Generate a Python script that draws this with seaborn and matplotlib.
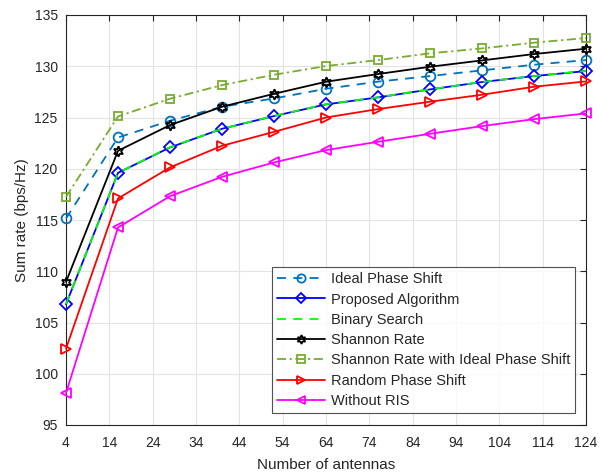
import numpy as np
import pandas as pd
import matplotlib
matplotlib.use("Agg")
import matplotlib.pyplot as plt
import seaborn as sns

antennas = [4, 16, 28, 40, 52, 64, 76, 88, 100, 112, 124]
ideal_phase = [115.15, 123.05, 124.68, 126.05, 126.86, 127.8, 128.5, 129.04, 129.6, 130.15, 130.6]
proposed = [106.78, 119.6, 122.08, 123.9, 125.14, 126.28, 126.96, 127.74, 128.46, 129.04, 129.53]
binary_search = [106.8, 119.6, 122.1, 123.9, 125.15, 126.3, 126.97, 127.75, 128.47, 129.05, 129.55]
shannon = [108.96, 121.75, 124.26, 126.05, 127.31, 128.49, 129.24, 129.95, 130.57, 131.19, 131.71]
shannon_ideal = [117.26, 125.1, 126.83, 128.16, 129.17, 130.02, 130.6, 131.26, 131.74, 132.3, 132.75]
random_phase = [102.45, 117.1, 120.13, 122.24, 123.6, 125.0, 125.82, 126.54, 127.22, 128.0, 128.52]
without_ris = [98.12, 114.27, 117.32, 119.21, 120.61, 121.82, 122.63, 123.41, 124.16, 124.84, 125.4]

labels = ["Ideal Phase Shift", "Proposed Algorithm", "Binary Search", "Shannon Rate",
          "Shannon Rate with Ideal Phase Shift", "Random Phase Shift", "Without RIS"]
xticks = [4, 14, 24, 34, 44, 54, 64, 74, 84, 94, 104, 114, 124]
yticks = [95, 100, 105, 110, 115, 120, 125, 130, 135]

sns.set_style("white")
plt.rcParams['font.family'] = ['Liberation Sans', 'DejaVu Sans']

fig = plt.figure(figsize=(6.02, 4.75), dpi=100)
ax = fig.add_axes([66/602, 1-425/475, (586-66)/602, (425-15)/475])

series = [ideal_phase, proposed, binary_search, shannon, shannon_ideal, random_phase, without_ris]
styles = [
    dict(color="#0072BD", linestyle=(0, (5, 4)), marker="o", markersize=7),
    dict(color="#0000FF", linestyle="-", marker="D", markersize=6),
    dict(color="#00FF00", linestyle=(0, (5, 4)), marker=None, markersize=7),
    dict(color="#000000", linestyle="-", marker=(6, 1, 0), markersize=7.5),
    dict(color="#77AC30", linestyle=(0, (5, 2, 1.2, 2)), marker="s", markersize=6),
    dict(color="#FF0000", linestyle="-", marker=">", markersize=7.5),
    dict(color="#FF00FF", linestyle="-", marker="<", markersize=7.5),
]

for lab, vals, st in zip(labels, series, styles):
    df = pd.DataFrame({"x": antennas, "y": vals})
    kw = dict(st)
    sns.lineplot(data=df, x="x", y="y", ax=ax, label=lab, sort=False,
                 linewidth=1.3, markerfacecolor="none", clip_on=False,
                 markeredgecolor=kw["color"], markeredgewidth=1.3, **kw)

ax.set_xlim(4, 124)
ax.set_ylim(95, 135)
ax.set_xticks(xticks)
ax.set_yticks(yticks)
ax.grid(True, color="#e3e3e3", linewidth=0.8)
ax.set_axisbelow(True)
for s in ax.spines.values():
    s.set_color("#262626")
    s.set_linewidth(0.8)
    s.set_zorder(1)
ax.tick_params(direction="in", length=4, width=0.8, top=True, right=True,
               labelsize=10, colors="#262626", pad=6)
ax.tick_params(axis="x", pad=8)
ax.set_xlabel("Number of antennas", fontsize=11, color="#262626", labelpad=6)
ax.set_ylabel("Sum rate (bps/Hz)", fontsize=11, color="#262626", labelpad=4)

leg = ax.legend(loc="lower right", bbox_to_anchor=(575/602, 1-413/475),
                bbox_transform=fig.transFigure, fontsize=10.5, frameon=True,
                fancybox=False, edgecolor="#262626", handlelength=3.3,
                labelspacing=0.43, borderpad=0.35, handletextpad=0.35,
                borderaxespad=0, markerscale=0.85)
leg.get_frame().set_linewidth(0.8)
leg.set_zorder(5)

fig.savefig("out.png", dpi=100)
